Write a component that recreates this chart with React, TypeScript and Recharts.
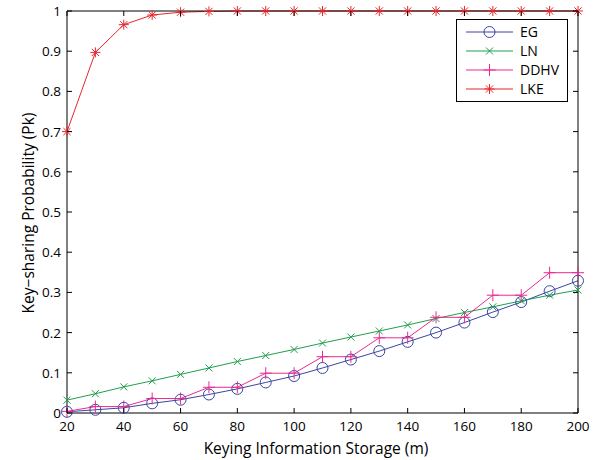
import { LineChart, Line, XAxis, YAxis } from 'recharts'

// keying information storage (m)
const storage = [20, 30, 40, 50, 60, 70, 80, 90, 100, 110, 120, 130, 140, 150, 160, 170, 180, 190, 200]

const egProb = [0.003, 0.008, 0.013, 0.024, 0.033, 0.046, 0.06, 0.076, 0.092, 0.112, 0.133, 0.154, 0.177, 0.2, 0.225, 0.251, 0.276, 0.303, 0.329]
const lnProb = [0.032, 0.048, 0.065, 0.08, 0.096, 0.112, 0.128, 0.143, 0.158, 0.174, 0.189, 0.204, 0.219, 0.235, 0.25, 0.264, 0.279, 0.293, 0.306]
const ddhvProb = [0.004, 0.016, 0.016, 0.036, 0.036, 0.064, 0.064, 0.099, 0.099, 0.14, 0.14, 0.187, 0.187, 0.238, 0.238, 0.293, 0.293, 0.349, 0.349]
const lkeProb = [0.70, 0.897, 0.966, 0.99, 0.997, 0.999, 1, 1, 1, 1, 1, 1, 1, 1, 1, 1, 1, 1, 1]

const xTicks = [20, 40, 60, 80, 100, 120, 140, 160, 180, 200]
const yTicks = [0, 0.1, 0.2, 0.3, 0.4, 0.5, 0.6, 0.7, 0.8, 0.9, 1]

const SERIES = [
  { key: 'EG', color: '#3a45a3', marker: 'circle' },
  { key: 'LN', color: '#1f9f4c', marker: 'x' },
  { key: 'DDHV', color: '#ec2a90', marker: 'plus' },
  { key: 'LKE', color: '#e8262c', marker: 'star' },
]

const data = storage.map((m, i) => ({
  m,
  EG: egProb[i],
  LN: lnProb[i],
  DDHV: ddhvProb[i],
  LKE: lkeProb[i],
}))

const FONT = '"Open Sans", Lato, sans-serif'

function Marker({ cx, cy, type, color }: any) {
  if (cx == null || cy == null) return null
  if (type === 'circle') {
    return <circle cx={cx} cy={cy} r={5.5} fill="none" stroke={color} strokeWidth={1} />
  }
  if (type === 'x') {
    const s = 3.5
    return (
      <g stroke={color} strokeWidth={1}>
        <line x1={cx - s} y1={cy - s} x2={cx + s} y2={cy + s} />
        <line x1={cx - s} y1={cy + s} x2={cx + s} y2={cy - s} />
      </g>
    )
  }
  if (type === 'plus') {
    const s = 6
    return (
      <g stroke={color} strokeWidth={1}>
        <line x1={cx - s} y1={cy} x2={cx + s} y2={cy} />
        <line x1={cx} y1={cy - s} x2={cx} y2={cy + s} />
      </g>
    )
  }
  const s = 5
  const d = 3.6
  return (
    <g stroke={color} strokeWidth={1}>
      <line x1={cx - s} y1={cy} x2={cx + s} y2={cy} />
      <line x1={cx} y1={cy - s} x2={cx} y2={cy + s} />
      <line x1={cx - d} y1={cy - d} x2={cx + d} y2={cy + d} />
      <line x1={cx - d} y1={cy + d} x2={cx + d} y2={cy - d} />
    </g>
  )
}

function BottomTick({ x, y, payload }: any) {
  return (
    <g>
      <line x1={x} y1={y} x2={x} y2={y - 5} stroke="#000" />
      <text x={x} y={y + 18} textAnchor="middle" fontSize={13.5} fontFamily={FONT} fill="#000">
        {payload.value}
      </text>
    </g>
  )
}

function TopTick({ x, y }: any) {
  return <line x1={x} y1={y} x2={x} y2={y + 5} stroke="#000" />
}

function LeftTick({ x, y, payload }: any) {
  return (
    <g>
      <line x1={x} y1={y} x2={x + 5} y2={y} stroke="#000" />
      <text x={x - 6} y={y + 5} textAnchor="end" fontSize={13.5} fontFamily={FONT} fill="#000">
        {payload.value}
      </text>
    </g>
  )
}

function RightTick({ x, y }: any) {
  return <line x1={x} y1={y} x2={x - 5} y2={y} stroke="#000" />
}

function LegendBox() {
  return (
    <svg width={112} height={83} style={{ display: 'block' }}>
      <rect x={0.5} y={0.5} width={111} height={82} fill="#fff" stroke="#000" strokeWidth={1} />
      {SERIES.map((s, i) => {
        const cy = 13 + i * 19
        return (
          <g key={s.key}>
            <line x1={10} y1={cy} x2={57} y2={cy} stroke={s.color} strokeWidth={1} />
            <Marker cx={33.5} cy={cy} type={s.marker} color={s.color} />
            <text x={64} y={cy + 5} fontSize={14} fontFamily={FONT} fill="#000">
              {s.key}
            </text>
          </g>
        )
      })}
    </svg>
  )
}

export default function App() {
  return (
    <div style={{ position: 'absolute', left: 0, top: 0, width: 611, height: 460, background: '#fff' }}>
      <LineChart width={611} height={460} data={data} margin={{ top: 10, right: 32, bottom: 17, left: 0 }}>
        <XAxis
          dataKey="m"
          type="number"
          domain={[20, 200]}
          ticks={xTicks}
          tickSize={0}
          tickMargin={0}
          tickLine={false}
          tick={<BottomTick />}
          height={30}
          axisLine={{ stroke: '#000' }}
          interval={0}
          label={{
            content: () => (
              <text x={316} y={454} textAnchor="middle" fontSize={15.5} fontFamily={FONT} fill="#000">
                Keying Information Storage (m)
              </text>
            ),
          }}
        />
        <XAxis
          xAxisId="top"
          dataKey="m"
          orientation="top"
          type="number"
          domain={[20, 200]}
          ticks={xTicks}
          tickSize={0}
          tickMargin={0}
          tickLine={false}
          tick={<TopTick />}
          height={1}
          axisLine={{ stroke: '#000' }}
          interval={0}
        />
        <YAxis
          type="number"
          domain={[0, 1]}
          ticks={yTicks}
          tickSize={0}
          tickMargin={0}
          tickLine={false}
          tick={<LeftTick />}
          width={67}
          axisLine={{ stroke: '#000' }}
          interval={0}
          label={{
            content: () => (
              <text
                transform="translate(34,213) rotate(-90)"
                textAnchor="middle"
                fontSize={15.5}
                fontFamily={FONT}
                fill="#000"
              >
                Key−sharing Probability (Pk)
              </text>
            ),
          }}
        />
        <YAxis
          yAxisId="right"
          orientation="right"
          type="number"
          domain={[0, 1]}
          ticks={yTicks}
          tickSize={0}
          tickMargin={0}
          tickLine={false}
          tick={<RightTick />}
          width={1}
          axisLine={{ stroke: '#000' }}
          interval={0}
        />
        {/* invisible series so the top and right box axes get drawn */}
        <Line
          xAxisId="top"
          yAxisId="right"
          dataKey="LKE"
          stroke="none"
          dot={false}
          activeDot={false}
          legendType="none"
          isAnimationActive={false}
        />
        {SERIES.map(s => (
          <Line
            key={s.key}
            dataKey={s.key}
            stroke={s.color}
            strokeWidth={1}
            isAnimationActive={false}
            dot={(p: any) => <Marker key={`${s.key}-${p.index}`} cx={p.cx} cy={p.cy} type={s.marker} color={s.color} />}
            activeDot={false}
          />
        ))}
      </LineChart>
      <div style={{ position: 'absolute', left: 456, top: 19 }}>
        <LegendBox />
      </div>
    </div>
  )
}
